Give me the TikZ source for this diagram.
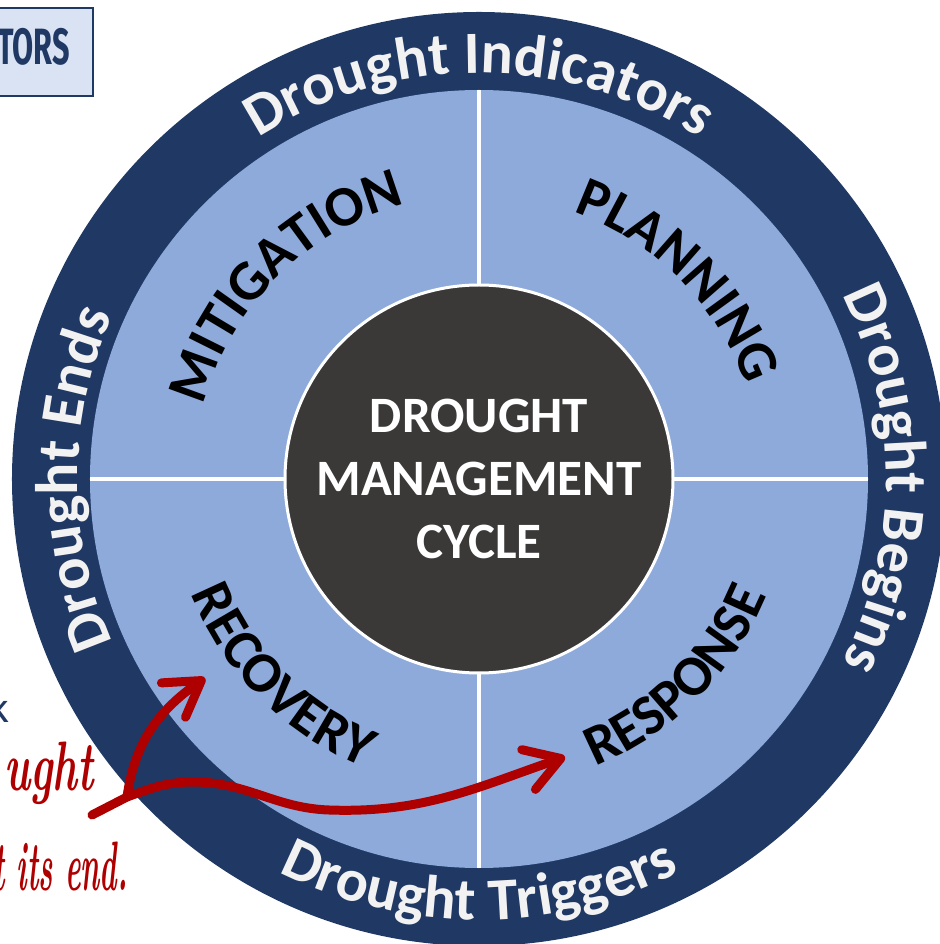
\documentclass[tikz,border=0pt]{standalone}
\usepackage{fontspec}
\usetikzlibrary{decorations.text, arrows.meta}
\newfontfamily\calfont{Carlito}
\newfontfamily\firafont{Fira Sans}
\definecolor{navy}{RGB}{32,56,100}
\definecolor{lightblue}{RGB}{142,170,219}
\definecolor{coredark}{RGB}{59,56,56}
\definecolor{ringtext}{RGB}{242,242,242}
\definecolor{arrowred}{RGB}{174,0,0}
\definecolor{boxfill}{RGB}{218,227,243}
\newcommand\ringfont{\calfont\bfseries\fontsize{60}{72}\selectfont}
\newcommand\quadfont{\calfont\bfseries\fontsize{57}{66}\selectfont}
\tikzset{
  divider/.style={draw=white, line width=3.5},
  corecircle/.style={circle, fill=coredark, draw=white, line width=3, minimum size=388pt, inner sep=0pt,
    align=center, text=white, font=\calfont\bfseries\fontsize{51}{63}\selectfont},
  ringlabel/.style={decorate, decoration={text along path, text align=center, text color=ringtext, text={|\ringfont|#1}}},
  quadlabel/.style={decorate, decoration={text along path, text align=center, text color=black, text={|\quadfont|#1}}},
  redline/.style={draw=arrowred, line width=9, line cap=round, line join=round},
  redarrow/.style={redline, -{Straight Barb[length=34pt,width=42pt,round]}},
  handtext/.style={text=arrowred, inner sep=0pt, font=\bfseries\itshape\fontsize{70}{80}\selectfont},
}
\begin{document}
\begin{tikzpicture}[x=1pt,y=1pt]
\useasboundingbox (-479,-465) rectangle (460,479);
% rings
\fill[navy] (0,0) circle[radius=467];
\fill[lightblue] (0,0) circle[radius=389];
\draw[divider] (-389,0) -- (389,0);
\draw[divider] (0,-389) -- (0,389);
\node[corecircle] (core) at (0,0) {DROUGHT\\MANAGEMENT\\CYCLE};
% ring labels
\path[ringlabel={Drought Indicators}] (180:406) arc[start angle=180, end angle=0, radius=406];
\path[ringlabel={Drought Begins}] (90:407) arc[start angle=90, end angle=-90, radius=407];
\path[ringlabel={Drought Ends}] (270:401) arc[start angle=270, end angle=90, radius=401];
\path[ringlabel={Drought Triggers}] (180:441) arc[start angle=180, end angle=360, radius=441];
% quadrant labels
\path[quadlabel={MITIGATION}] (225:285) arc[start angle=225, end angle=45, radius=285];
\path[quadlabel={PLANNING}] (135:283) arc[start angle=135, end angle=-45, radius=283];
\path[quadlabel={RECOVERY}] (135:310) arc[start angle=135, end angle=315, radius=310];
\path[quadlabel={RESPONSE}] (225:310) arc[start angle=225, end angle=405, radius=310];
% top-left box
\draw[navy, line width=2, fill=boxfill] (-500,471) rectangle (-386,383);
\node[anchor=base east, inner sep=0pt, text=navy, font=\firafont\bfseries\fontsize{51}{60}\selectfont] (boxtext) at (-409,414) {\scalebox{0.6}[1]{TORS}};
% partial texts at left
\node[anchor=base east, inner sep=0pt, text=navy, font=\firafont\fontsize{40}{48}\selectfont] (kfrag) at (-470,-243) {k};
\node[handtext, anchor=base east] (line1) at (-385,-311) {\scalebox{0.6}[1]{ught}};
\node[handtext, anchor=base east] (line2) at (-351,-411) {\scalebox{0.42}[1]{t its end.}};
% red arrows
\coordinate (S) at (-387,-336);
\coordinate (J) at (-352,-318);
\coordinate (bump) at (-286,-303);
\coordinate (dip) at (-150,-331);
\coordinate (tipA) at (86,-278);
\coordinate (tipB) at (-274,-199);
\draw[redarrow] (S) -- (J) to[out=20, in=180] (bump) to[out=0, in=178] (dip) to[out=-2, in=199] (tipA);
\draw[redarrow] (J) to[out=82, in=215] (tipB);
\end{tikzpicture}
\end{document}
